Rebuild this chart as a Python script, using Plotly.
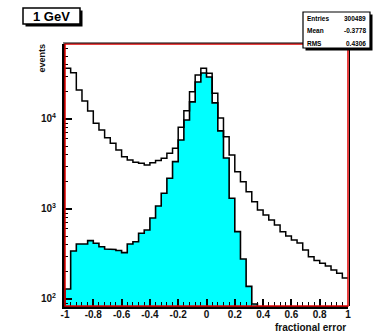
import numpy as np
import plotly.graph_objects as go

# ---------------- data ----------------
bin_edges = np.linspace(-1.0, 1.0, 51)
all_counts = [36500, 32700, 21000, 15850, 12270, 8960, 7550, 6200, 5370, 4525,
              3810, 3500, 3300, 3220, 3080, 3270, 3450, 3650, 4160, 4720,
              8090, 12360, 20100, 30800, 36500, 32200, 19300, 10240, 6350, 3980,
              2590, 2010, 1557, 1205, 975, 858, 755, 664, 560, 501,
              453, 419, 350, 295, 267, 250, 233, 210, 193, 171]
sel_counts = [129, 341, 408, 408, 445, 416, 381, 359, 355, 345,
              327, 408, 433, 537, 585, 794, 1080, 1494, 2193, 3357,
              5840, 9750, 15500, 25800, 32400, 29300, 15100, 7370, 3690, 1315,
              560, 278, 138, 88, 0, 0, 0, 0, 0, 0,
              0, 0, 0, 0, 0, 0, 0, 0, 0, 0]
x_ticks = [-1, -0.8, -0.6, -0.4, -0.2, 0, 0.2, 0.4, 0.6, 0.8, 1]
x_tick_text = ["-1", "-0.8", "-0.6", "-0.4", "-0.2", "0", "0.2", "0.4", "0.6", "0.8", "1"]
y_ticks = [100, 1000, 10000]
y_tick_text = ["10<sup>2</sup>", "10<sup>3</sup>", "10<sup>4</sup>"]
title_text = "1 GeV"
stats_names = ["Entries", "Mean", "RMS"]
stats_values = ["300489", "-0.3778", "0.4306"]
x_title = "fractional error"
y_title = "events"

# ---------------- geometry ----------------
WIDTH, HEIGHT = 374, 334
L, R, T, B = 65, 348, 44, 306
PW, PH = R - L, B - T
FLOOR = 1.0  # below visible log range


def px(x):
    return (x - L) / PW


def py(y):
    return (B - y) / PH


def steps(edges, vals, closed):
    xs, ys = [], []
    if closed:
        xs.append(edges[0]); ys.append(FLOOR)
    for i, v in enumerate(vals):
        v = v if v > 0 else FLOOR
        xs += [edges[i], edges[i + 1]]
        ys += [v, v]
    if closed:
        xs.append(edges[-1]); ys.append(FLOOR)
    return xs, ys


fig = go.Figure()
sx, sy = steps(bin_edges, sel_counts, True)
fig.add_trace(go.Scatter(x=sx, y=sy, mode="lines", fill="toself",
                         fillcolor="#00FFFF", line=dict(color="black", width=1.6),
                         hoverinfo="skip", showlegend=False))
ax_, ay_ = steps(bin_edges, all_counts, False)
fig.add_trace(go.Scatter(x=ax_, y=ay_, mode="lines",
                         line=dict(color="black", width=1.5),
                         hoverinfo="skip", showlegend=False))

tick_font = dict(family="Liberation Sans, Arial, sans-serif", size=10,
                 color="#111111", weight="bold")

minor_y = [m * 10 ** k for k in range(1, 5) for m in range(2, 10)]

fig.update_xaxes(range=[-1, 1], tickmode="array", tickvals=x_ticks,
                 ticktext=x_tick_text, ticks="inside", ticklen=7, tickwidth=1.5,
                 tickcolor="black", showgrid=False, zeroline=False,
                 showline=True, linecolor="black", linewidth=3,
                 tickfont=tick_font, ticklabelstandoff=-3,
                 minor=dict(dtick=0.04, tick0=-1, ticks="inside", ticklen=4,
                            tickwidth=1.2, tickcolor="black", showgrid=False))
fig.update_yaxes(type="log", range=[1.922, 4.833], tickmode="array",
                 tickvals=y_ticks, ticktext=y_tick_text, ticks="inside",
                 ticklen=7, tickwidth=2, tickcolor="black", showgrid=False,
                 zeroline=False, showline=True, linecolor="black", linewidth=3,
                 tickfont=tick_font, ticklabelstandoff=4,
                 minor=dict(tickmode="array", tickvals=minor_y, ticks="inside",
                            ticklen=3, tickwidth=1, tickcolor="black",
                            showgrid=False))

shapes = []
# red frame
shapes.append(dict(type="rect", xref="paper", yref="paper", x0=0, x1=1, y0=0, y1=1,
                   line=dict(color="#E00000", width=1.5), layer="above"))
# thin black outer lines on top and right
shapes.append(dict(type="line", xref="paper", yref="paper", x0=px(L - 2), x1=px(R + 1.5),
                   y0=py(T - 1), y1=py(T - 1), line=dict(color="black", width=1), layer="above"))
shapes.append(dict(type="line", xref="paper", yref="paper", x0=px(R + 1.5), x1=px(R + 1.5),
                   y0=py(T - 1), y1=py(B), line=dict(color="black", width=1), layer="above"))


def shadow_box(x0, y0, x1, y1, sh=2.5, lw=1.5):
    out = []
    out.append(dict(type="rect", xref="paper", yref="paper",
                    x0=px(x0 + sh), x1=px(x1 + sh), y0=py(y1 + sh), y1=py(y0 + sh),
                    fillcolor="black", line=dict(color="black", width=0), layer="above"))
    out.append(dict(type="rect", xref="paper", yref="paper",
                    x0=px(x0), x1=px(x1), y0=py(y1), y1=py(y0),
                    fillcolor="white", line=dict(color="black", width=lw), layer="above"))
    return out


shapes += shadow_box(23, 8, 80, 24)
shapes += shadow_box(303, 12, 370, 48, sh=2.5, lw=1.2)

annotations = []
annotations.append(dict(xref="paper", yref="paper", x=px(51.5), y=py(16.5),
                        text=title_text, showarrow=False, xanchor="center", yanchor="middle",
                        font=dict(family="Liberation Sans, Arial", size=13, color="black",
                                  weight="bold")))
stat_y = [19, 31, 43]
for n, v, yy in zip(stats_names, stats_values, stat_y):
    annotations.append(dict(xref="paper", yref="paper", x=px(305), y=py(yy), text=n,
                            showarrow=False, xanchor="left", yanchor="middle",
                            font=dict(family="Liberation Sans, Arial", size=6.5,
                                      color="black", weight="bold")))
    annotations.append(dict(xref="paper", yref="paper", x=px(368), y=py(yy), text=v,
                            showarrow=False, xanchor="right", yanchor="middle",
                            font=dict(family="Liberation Sans, Arial", size=6.5,
                                      color="black", weight="bold")))
annotations.append(dict(xref="paper", yref="paper", x=px(348), y=py(327), text=x_title,
                        showarrow=False, xanchor="right", yanchor="middle",
                        font=dict(family="Liberation Sans, Arial", size=10,
                                  color="#111111", weight="bold")))
annotations.append(dict(xref="paper", yref="paper", x=px(41), y=py(42), text=y_title,
                        showarrow=False, xanchor="center", yanchor="top", textangle=-90,
                        font=dict(family="Liberation Sans, Arial", size=9,
                                  color="#111111", weight="bold")))

fig.update_layout(width=WIDTH, height=HEIGHT,
                  margin=dict(l=L, r=WIDTH - R, t=T, b=HEIGHT - B, pad=0),
                  paper_bgcolor="white", plot_bgcolor="white",
                  shapes=shapes, annotations=annotations, showlegend=False)

fig.write_html("out.html", config={"displayModeBar": False},
               post_script="document.body.style.margin='0';document.body.style.overflow='hidden';")
